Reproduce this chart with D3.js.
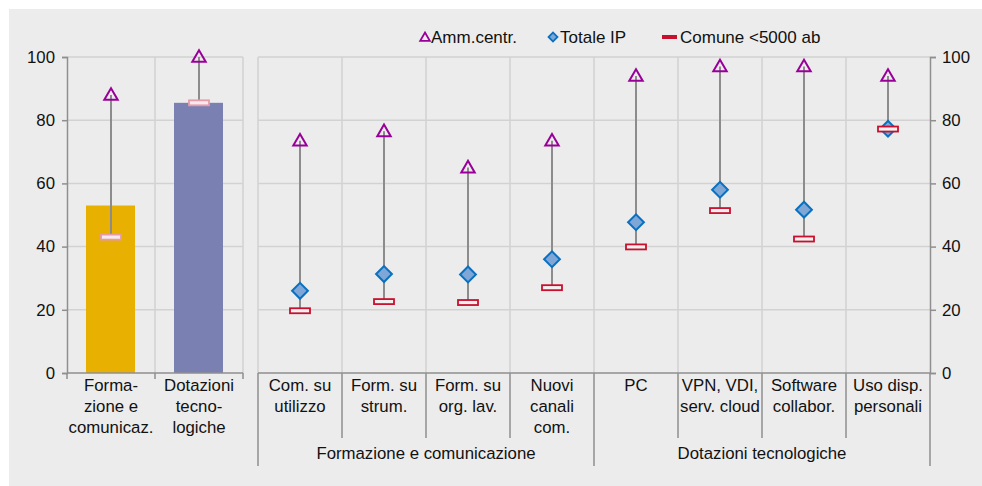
<!DOCTYPE html>
<html>
<head>
<meta charset="utf-8">
<script src="https://cdn.jsdelivr.net/npm/d3@7"></script>
<style>
  body { margin: 0; background: #fff; }
  svg { display: block; font-family: "Liberation Sans", Arial, sans-serif; }
</style>
</head>
<body>
<svg width="982" height="486"></svg>
<script>
var svg = d3.select("svg");

// left panel (aggregates)
var leftCats = [["Forma-", "zione e", "comunicaz."], ["Dotazioni", "tecno-", "logiche"]];
var leftBars = [53, 85.5];
var leftAmm = [88, 100];
var leftComune = [43, 85.5];
var leftColors = ["#e8b000", "#7b80b3"];

// right panel (detail)
var rightCats = [["Com. su", "utilizzo"], ["Form. su", "strum."], ["Form. su", "org. lav."], ["Nuovi", "canali", "com."],
                 ["PC"], ["VPN, VDI,", "serv. cloud"], ["Software", "collabor."], ["Uso disp.", "personali"]];
var groups = ["Formazione e comunicazione", "Dotazioni tecnologiche"];
var groupSize = [4, 4];
var ammCentr = [73.5, 76.5, 65, 73.5, 94, 97, 97, 94];
var totaleIP = [26, 31.3, 31.2, 36, 47.7, 58, 51.7, 77.3];
var comune = [19.7, 22.6, 22.3, 27, 39.9, 51.4, 42.4, 77.2];

var yTicks = [0, 20, 40, 60, 80, 100];

var TOP = 57, BOTTOM = 373;
var FS = 16.8;
var y = d3.scaleLinear().domain([0, 100]).range([BOTTOM, TOP]);

var xl = d3.scaleBand().domain(d3.range(leftCats.length)).range([67, 243]);
var xr = d3.scaleBand().domain(d3.range(rightCats.length)).range([258, 930]);

var GRID = "#d2d2d2", AXIS = "#8f8f8f", TXT = "#111";

svg.append("rect").attr("x", 9).attr("y", 9).attr("width", 982 - 9).attr("height", 486 - 9).attr("fill", "#ececec");

// gridlines
function grid(x0, x1, xs) {
    var g = svg.append("g");
    g.selectAll("line.h").data(yTicks.slice(1)).enter().append("line")
        .attr("x1", x0).attr("x2", x1)
        .attr("y1", function (d) { return y(d); }).attr("y2", function (d) { return y(d); })
        .attr("stroke", GRID).attr("stroke-width", 1.5);
    g.selectAll("line.v").data(xs).enter().append("line")
        .attr("x1", function (d) { return d; }).attr("x2", function (d) { return d; })
        .attr("y1", TOP).attr("y2", BOTTOM)
        .attr("stroke", GRID).attr("stroke-width", 1.5);
}
grid(67, 243, [155, 243]);
grid(258, 930, d3.range(rightCats.length).map(function (i) { return xr(i); }));

// left bars
svg.append("g").selectAll("rect").data(leftBars).enter().append("rect")
    .attr("x", function (d, i) { return xl(i) + 19; })
    .attr("width", xl.bandwidth() - 39)
    .attr("y", function (d) { return y(d); })
    .attr("height", function (d) { return y(0) - y(d); })
    .attr("fill", function (d, i) { return leftColors[i]; });

// axes
var yAxisL = d3.axisLeft(y).tickValues(yTicks).tickSize(5).tickPadding(7);
var gl = svg.append("g").attr("transform", "translate(67,0)").call(yAxisL);
var yAxisR = d3.axisRight(y).tickValues(yTicks).tickSize(6).tickPadding(6);
var gr = svg.append("g").attr("transform", "translate(930,0)").call(yAxisR);
[gl, gr].forEach(function (g) {
    g.select(".domain").attr("stroke", AXIS).attr("stroke-width", 1.5);
    g.selectAll(".tick line").attr("stroke", AXIS).attr("stroke-width", 1.5);
    g.selectAll(".tick text").attr("font-size", FS).attr("fill", TXT)
        .attr("font-family", "Liberation Sans, Arial, sans-serif");
});

// bottom axis lines
svg.append("line").attr("x1", 67).attr("x2", 243).attr("y1", BOTTOM).attr("y2", BOTTOM)
    .attr("stroke", AXIS).attr("stroke-width", 1.5);
svg.append("g").selectAll("line").data([67, 155, 243]).enter().append("line")
    .attr("x1", function (d) { return d; }).attr("x2", function (d) { return d; })
    .attr("y1", BOTTOM).attr("y2", BOTTOM + 6)
    .attr("stroke", AXIS).attr("stroke-width", 1.5);

svg.append("line").attr("x1", 258).attr("x2", 930).attr("y1", BOTTOM).attr("y2", BOTTOM)
    .attr("stroke", AXIS).attr("stroke-width", 1.5);
var sepIdx = d3.range(rightCats.length + 1);
var groupEdges = [0];
groupSize.forEach(function (n, i) { groupEdges.push(groupEdges[i] + n); });
function edgeX(i) { return i < rightCats.length ? xr(i) : xr.range()[1]; }
svg.append("g").selectAll("line").data(sepIdx).enter().append("line")
    .attr("x1", edgeX).attr("x2", edgeX)
    .attr("y1", BOTTOM)
    .attr("y2", function (i) { return groupEdges.indexOf(i) >= 0 ? 466 : 438; })
    .attr("stroke", AXIS).attr("stroke-width", 1.5);

// category labels
function catLabels(cats, xs, bw) {
    var g = svg.append("g").attr("font-size", FS).attr("fill", TXT).attr("text-anchor", "middle");
    cats.forEach(function (lines, i) {
        var t = g.append("text").attr("x", xs(i) + bw / 2).attr("y", 391);
        lines.forEach(function (s, k) {
            t.append("tspan").attr("x", xs(i) + bw / 2).attr("y", 391 + k * 21).text(s);
        });
    });
}
catLabels(leftCats, xl, xl.bandwidth());
catLabels(rightCats, xr, xr.bandwidth());

svg.append("g").attr("font-size", FS).attr("fill", TXT).attr("text-anchor", "middle")
    .selectAll("text").data(groups).enter().append("text")
    .attr("x", function (d, i) { return (edgeX(groupEdges[i]) + edgeX(groupEdges[i + 1])) / 2; })
    .attr("y", 459)
    .text(function (d) { return d; });

// markers
var tri = d3.symbol().type(d3.symbolTriangle).size(78);
var dia = d3.symbol().type(d3.symbolSquare).size(125);

function drawSeries(xs, bw, amm, tot, com, comFill, comStroke) {
    var g = svg.append("g");
    var idx = d3.range(amm.length);
    g.selectAll("line").data(idx).enter().append("line")
        .attr("x1", function (i) { return xs(i) + bw / 2; })
        .attr("x2", function (i) { return xs(i) + bw / 2; })
        .attr("y1", function (i) { return y(amm[i]); })
        .attr("y2", function (i) { return y(d3.min([com[i], tot ? tot[i] : com[i]])); })
        .attr("stroke", "#8c8c8c").attr("stroke-width", 2);
    if (tot) {
        g.selectAll("path.d").data(idx).enter().append("path")
            .attr("transform", function (i) { return "translate(" + (xs(i) + bw / 2) + "," + y(tot[i]) + ") rotate(45)"; })
            .attr("d", dia)
            .attr("fill", "#7ea7d8").attr("stroke", "#0a70c0").attr("stroke-width", 2);
    }
    g.selectAll("rect").data(idx).enter().append("rect")
        .attr("x", function (i) { return xs(i) + bw / 2 - 10; })
        .attr("y", function (i) { return y(com[i]) - 2.5; })
        .attr("width", 20).attr("height", 5)
        .attr("fill", comFill).attr("stroke", comStroke).attr("stroke-width", 1.8);
    g.selectAll("path.t").data(idx).enter().append("path")
        .attr("transform", function (i) { return "translate(" + (xs(i) + bw / 2) + "," + (y(amm[i]) + 1) + ")"; })
        .attr("d", tri)
        .attr("fill", "none").attr("stroke", "#990099").attr("stroke-width", 2);
}
drawSeries(xl, xl.bandwidth(), leftAmm, null, leftComune, "#f6eaee", "#e79aa8");
drawSeries(xr, xr.bandwidth(), ammCentr, totaleIP, comune, "#f0f0f0", "#c8102e");

// legend
var lg = svg.append("g").attr("font-size", 17).attr("fill", TXT);
lg.append("path").attr("transform", "translate(425,38)").attr("d", d3.symbol().type(d3.symbolTriangle).size(40))
    .attr("fill", "none").attr("stroke", "#990099").attr("stroke-width", 1.8);
lg.append("text").attr("x", 431).attr("y", 43).text("Amm.centr.");
lg.append("path").attr("transform", "translate(553,37) rotate(45)").attr("d", d3.symbol().type(d3.symbolSquare).size(40))
    .attr("fill", "#7ea7d8").attr("stroke", "#0a70c0").attr("stroke-width", 1.8);
lg.append("text").attr("x", 560).attr("y", 43).text("Totale IP");
lg.append("rect").attr("x", 662).attr("y", 35).attr("width", 15).attr("height", 4).attr("fill", "#c8102e");
lg.append("text").attr("x", 680).attr("y", 43).text("Comune <5000 ab");
</script>
</body>
</html>
